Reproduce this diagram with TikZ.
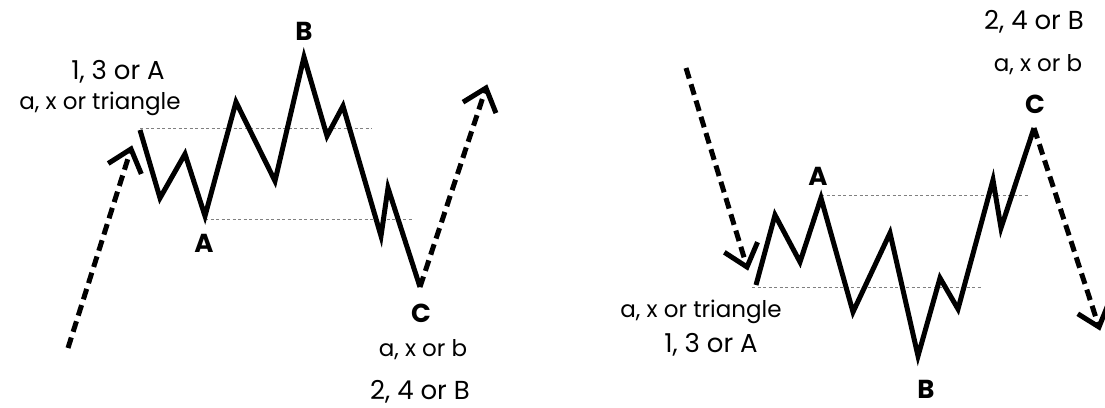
\documentclass[tikz,border=0pt]{standalone}
\usepackage{fontspec}
\setmainfont{Poppins}
\usetikzlibrary{calc}
\begin{document}
\begin{tikzpicture}[x=1pt,y=-1pt,
  wave/.style={line width=5pt, line join=miter, miter limit=10},
  trend/.style={line width=5pt, dash pattern=on 11pt off 6pt, shorten >=3pt},
  head/.style={line width=5pt, line join=miter, miter limit=10},
  level/.style={gray, line width=1pt, dash pattern=on 3pt off 2.5pt},
  lbl/.style={font=\fontsize{26}{28}\selectfont\bfseries, inner sep=0pt},
  note/.style={font=\fontsize{23}{26}\selectfont, inner sep=0pt},
  big/.style={font=\fontsize{26}{28}\selectfont, inner sep=0pt}]
\useasboundingbox (0,0) rectangle (1105,407);
% ---------- left panel ----------
\coordinate (l0) at (140,130);
\coordinate (l1) at (160,198);
\coordinate (l2) at (185,154);
\coordinate (l3) at (205,216);
\coordinate (l4) at (236,102);
\coordinate (l5) at (275,181);
\coordinate (l6) at (304,57);
\coordinate (l7) at (327,136);
\coordinate (l8) at (343,106);
\coordinate (l9) at (381,236);
\coordinate (l10) at (388,188);
\coordinate (l11) at (420,287);
\coordinate (ls) at (68,348);
\coordinate (la) at (131,149);
\coordinate (le) at (486,88);
\coordinate (lu1) at (140,128);
\coordinate (lu2) at (372,128);
\coordinate (ld1) at (205,219);
\coordinate (ld2) at (413,219);
\draw[level] (lu1) -- (lu2);
\draw[level] (ld1) -- (ld2);
\draw[wave] (l0) -- (l1) -- (l2) -- (l3) -- (l4) -- (l5) -- (l6) -- (l7) -- (l8) -- (l9) -- (l10) -- (l11);
\draw[trend] (ls) -- (la);
\draw[head] ($(la)!27pt!-40:(ls)$) -- (la) -- ($(la)!27pt!40:(ls)$);
\draw[trend] (l11) -- (le);
\draw[head] ($(le)!27pt!-40:(l11)$) -- (le) -- ($(le)!27pt!40:(l11)$);
\node[big] (t1) at (118,72) {1, 3 or A};
\node[note] (t2) at (100,104) {a, x or triangle};
\node[lbl] (lA) at (204,243) {A};
\node[lbl] (lB) at (304,31) {B};
\node[lbl] (lC) at (421,313) {C};
\node[note] (t3) at (423,350) {a, x or b};
\node[big] (t4) at (420,392) {2, 4 or B};
% ---------- right panel ----------
\coordinate (r0) at (756,285);
\coordinate (r1) at (775,215);
\coordinate (r2) at (800,262);
\coordinate (r3) at (821,198);
\coordinate (r4) at (853,312);
\coordinate (r5) at (890,233);
\coordinate (r6) at (918,356);
\coordinate (r7) at (940,278);
\coordinate (r8) at (958,309);
\coordinate (r9) at (993,180);
\coordinate (r10) at (1001,228);
\coordinate (r11) at (1034,128);
\coordinate (rs) at (686,68);
\coordinate (ra) at (747,267);
\coordinate (re) at (1099,327);
\coordinate (ru1) at (821,195);
\coordinate (ru2) at (1028,195);
\coordinate (rd1) at (752,287);
\coordinate (rd2) at (982,287);
\draw[level] (ru1) -- (ru2);
\draw[level] (rd1) -- (rd2);
\draw[wave] (r0) -- (r1) -- (r2) -- (r3) -- (r4) -- (r5) -- (r6) -- (r7) -- (r8) -- (r9) -- (r10) -- (r11);
\draw[trend] (rs) -- (ra);
\draw[head] ($(ra)!27pt!-40:(rs)$) -- (ra) -- ($(ra)!27pt!40:(rs)$);
\draw[trend] (r11) -- (re);
\draw[head] ($(re)!25pt!-40:(r11)$) -- (re) -- ($(re)!25pt!40:(r11)$);
\node[big] (s1) at (1034,22) {2, 4 or B};
\node[note] (s2) at (1038,65) {a, x or b};
\node[lbl] (rC) at (1035,104) {C};
\node[lbl] (rA) at (818,176) {A};
\node[note] (s3) at (701,312) {a, x or triangle};
\node[big] (s4) at (711,345) {1, 3 or A};
\node[lbl] (rB) at (926,389) {B};
\end{tikzpicture}
\end{document}
